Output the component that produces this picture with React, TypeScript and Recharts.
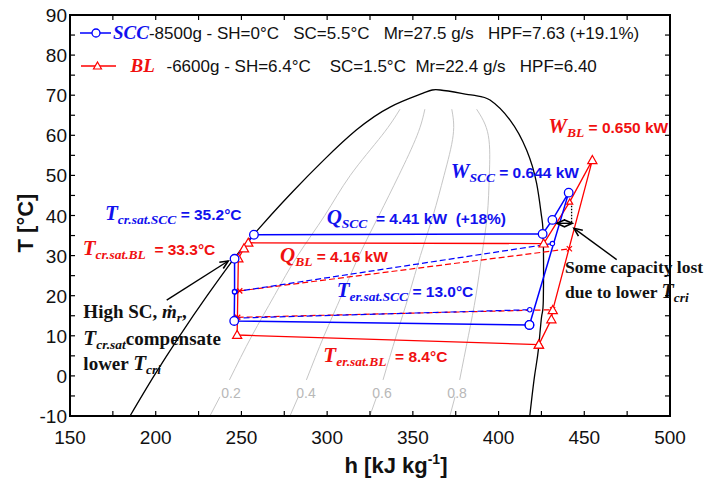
import React from "react";
import {
  LineChart,
  Line,
  XAxis,
  YAxis,
  ReferenceLine,
  ReferenceDot,
  Customized,
} from "recharts";

const BLUE = "#0000ff";
const RED = "#ff0000";
const BLUE_TXT = "#1111ee";
const RED_TXT = "#f01010";
const GREY = "#c6c6c6";
const INK = "#111";
const SANS = "'Liberation Sans', Arial, sans-serif";
const SERIF = "'Liberation Serif', 'Times New Roman', serif";

// plot box (chart margins + axis sizes below)
const LEFT = 70;
const TOP = 15;
const PLOT_W = 600;
const PLOT_H = 401;

// axis ticks
const hTicks = [150, 175, 200, 225, 250, 275, 300, 325, 350, 375, 400, 425, 450, 475, 500];
const tTicks = [-10, -5, 0, 5, 10, 15, 20, 25, 30, 35, 40, 45, 50, 55, 60, 65, 70, 75, 80, 85, 90];

// saturation dome [h kJ/kg, T °C]: liquid side -> top -> vapour side
const dome: [number, number][] = [
  [185, -10], [199, 0], [214, 10], [230, 20], [247, 30], [257, 35.2], [267, 40],
  [280, 46], [298, 53.8], [317, 61.3], [337, 67.1], [356, 70.5], [366, 71.3],
  [385, 70.0], [395, 68.8], [406.7, 63.8], [416.4, 56.3], [422.2, 48], [425.1, 39.7],
  [426.1, 33.9], [426.1, 18.9], [425.1, 14.8], [423.2, 6.5], [421, 0], [418.2, -10],
];

// vapour quality lines, split where the label sits
const q02Low: [number, number][] = [[231.6, -10], [237.5, -5.2]];
const q02: [number, number][] = [[243, -1], [256.1, 10], [269.2, 20], [282.8, 30], [298.6, 40], [313.5, 50], [332, 60], [342.5, 66.5]];
const q04Low: [number, number][] = [[278.3, -10], [283.2, -5.2]];
const q04: [number, number][] = [[287.9, -1], [298.2, 10], [308.4, 20], [318.6, 30], [330.2, 40], [341.8, 50], [352.5, 60], [357, 66.5]];
const q06Low: [number, number][] = [[324.9, -10], [328.9, -5.2]];
const q06: [number, number][] = [[332.6, -1], [340.3, 10], [347.6, 20], [354.4, 30], [361.8, 40], [368.2, 50], [373.5, 60], [372.7, 66.5]];
const q08Low: [number, number][] = [[371.6, -10], [374.6, -5.2]];
const q08: [number, number][] = [[377.3, -1], [382.4, 10], [386.8, 20], [390.2, 30], [393.4, 40], [394.6, 50], [394, 60], [387.2, 66.5]];
const qLabels = ["0.2", "0.4", "0.6", "0.8"];
const qLabelAt: [number, number][] = [[243.9, -4.3], [287.7, -4.3], [332.0, -4.3], [375.8, -4.3]];

// SCC cycle (blue)
const sccCycle: [number, number][] = [
  [418.0, 12.7], [440.9, 45.7], [431.4, 38.9], [425.7, 35.4], [257.3, 35.2],
  [246.0, 29.2], [246.0, 21.0], [245.8, 13.7], [418.0, 12.7],
];
const sccSmallIdx = [6];
const sccDashLiquid: [number, number][] = [[246.3, 21.0], [431.4, 33.0]];
const sccDashSuction: [number, number][] = [[246.0, 14.4], [418.2, 16.5]];

// BL cycle (red)
const blCycle: [number, number][] = [
  [423.5, 7.8], [430.8, 14.1], [431.6, 16.4], [454.7, 53.8], [441.5, 43.4], [426.3, 33.0],
  [254.0, 33.2], [251.5, 31.8], [248.2, 29.3], [247.5, 10.2], [423.5, 7.8],
];
const blSmallIdx = [4];
const blDashLiquid: [number, number][] = [[249.0, 21.2], [441.3, 31.7]];
const blDashSuction: [number, number][] = [[247.8, 14.6], [431.5, 16.5]];

// annotation arrows
const arrowHighSC: [number, number][] = [[206.4, 18.9], [242.3, 28.65]];
const arrowLost: [number, number][] = [[468.9, 29.0], [444.0, 36.8]];
const lostSpan: [number, number][] = [[433.9, 38.05], [443.0, 38.05]];
const lostDrop: [number, number][] = [[442.6, 43.2], [442.6, 38.05]];

const legendScc = "-8500g - SH=0°C   SC=5.5°C   Mr=27.5 g/s   HPF=7.63 (+19.1%)";
const legendBl = "-6600g - SH=6.4°C    SC=1.5°C  Mr=22.4 g/s   HPF=6.40";

const pts = (a: [number, number][]) => a.map(([h, T]) => ({ h, T }));

const circleDot = (small: number[]) => (p: any) => {
  const isSmall = small.includes(p.index);
  return (
    <circle key={`c${p.index}`} cx={p.cx} cy={p.cy} r={isSmall ? 2.2 : 4.3}
      fill="#fff" stroke={BLUE} strokeWidth={1.3} />
  );
};
const smallCircleDot = (p: any) => (
  <circle key={`s${p.index}`} cx={p.cx} cy={p.cy} r={2.2} fill="#fff" stroke={BLUE} strokeWidth={1.1} />
);
const triDot = (small: number[]) => (p: any) => {
  const s = small.includes(p.index) ? 3 : 4.6;
  const { cx, cy } = p;
  return (
    <path key={`t${p.index}`} d={`M${cx},${cy - s} L${cx + s},${cy + s * 0.75} L${cx - s},${cy + s * 0.75} Z`}
      fill="#fff" stroke={RED} strokeWidth={1.2} />
  );
};
const crossDot = (p: any) => (
  <path key={`x${p.index}`} d={`M${p.cx - 2.6},${p.cy - 2.6} L${p.cx + 2.6},${p.cy + 2.6} M${p.cx - 2.6},${p.cy + 2.6} L${p.cx + 2.6},${p.cy - 2.6}`}
    stroke={RED} strokeWidth={1.2} />
);

const arrowHead = (tx: number, ty: number, fx: number, fy: number) => {
  const a = Math.atan2(ty - fy, tx - fx);
  const L = 9;
  const w = 0.42;
  return `M${tx - L * Math.cos(a - w)},${ty - L * Math.sin(a - w)} L${tx},${ty} L${tx - L * Math.cos(a + w)},${ty - L * Math.sin(a + w)}`;
};
const arrowShape = (both: boolean) => (p: any) => {
  const { x1, y1, x2, y2 } = p;
  return (
    <g>
      <line x1={x1} y1={y1} x2={x2} y2={y2} stroke="#000" strokeWidth={1.4} />
      <path d={arrowHead(x2, y2, x1, y1) + (both ? " " + arrowHead(x1, y1, x2, y2) : "")}
        fill="none" stroke="#000" strokeWidth={1.6} />
    </g>
  );
};

function Sym({ x, y, color, main, sub, rest }: any) {
  return (
    <text x={x} y={y} fill={color} style={{ whiteSpace: "pre" }}>
      <tspan fontFamily={SERIF} fontStyle="italic" fontWeight="bold" fontSize={21}>{main}</tspan>
      <tspan fontFamily={SERIF} fontStyle="italic" fontWeight="bold" fontSize={13.5} dy={4}>{sub}</tspan>
      <tspan fontFamily={SANS} fontWeight="bold" fontSize={15.5} dy={-4}>{rest}</tspan>
    </text>
  );
}

const note = (key: string, h: number, T: number, draw: (x: number, y: number) => React.ReactNode) => (
  <ReferenceDot key={key} x={h} y={T} r={1} ifOverflow="visible"
    shape={(p: any) => <g>{draw(p.cx, p.cy)}</g>} />
);

// bottom axis tick: inward tick at the bottom and mirrored one on the top edge
const BottomTick = (p: any) => {
  const { x, y, payload } = p;
  const major = payload.value % 50 === 0;
  return (
    <g>
      <line x1={x} x2={x} y1={y} y2={y - 5} stroke="#000" strokeWidth={1.2} />
      <line x1={x} x2={x} y1={y - PLOT_H} y2={y - PLOT_H + 5} stroke="#000" strokeWidth={1.2} />
      {major && (
        <text x={x} y={y + 28} textAnchor="middle" fontFamily={SANS} fontSize={19} fill={INK}>
          {payload.value}
        </text>
      )}
    </g>
  );
};
const LeftTick = (p: any) => {
  const { x, y, payload } = p;
  const major = payload.value % 10 === 0;
  return (
    <g>
      <line x1={x} x2={x + 5} y1={y} y2={y} stroke="#000" strokeWidth={1.2} />
      <line x1={x + PLOT_W} x2={x + PLOT_W - 5} y1={y} y2={y} stroke="#000" strokeWidth={1.2} />
      {major && (
        <text x={x - 3} y={y + 7} textAnchor="end" fontFamily={SANS} fontSize={19} fill={INK}>
          {payload.value}
        </text>
      )}
    </g>
  );
};

const Decorations = () => (
  <g>
    <rect x={LEFT} y={TOP} width={PLOT_W} height={PLOT_H} fill="none" stroke="#000" strokeWidth={2} />
    {/* legend */}
    <line x1={80} x2={111} y1={33} y2={33} stroke={BLUE} strokeWidth={1.5} />
    <circle cx={96} cy={33} r={4} fill="#fff" stroke={BLUE} strokeWidth={1.3} />
    <text x={113} y={39} fontFamily={SANS} fontSize={17} fill={INK} style={{ whiteSpace: "pre" }}>
      <tspan fontFamily={SERIF} fontStyle="italic" fontWeight="bold" fontSize={19} fill={BLUE_TXT}>SCC</tspan>
      <tspan>{legendScc}</tspan>
    </text>
    <line x1={81} x2={116} y1={66} y2={66} stroke={RED} strokeWidth={1.5} />
    <path d="M97.5,62 L101.5,69 L93.5,69 Z" fill="#fff" stroke={RED} strokeWidth={1.2} />
    <text x={130.5} y={72} fontFamily={SERIF} fontStyle="italic" fontWeight="bold" fontSize={19} fill={RED_TXT}>BL</text>
    <text x={166.5} y={72} fontFamily={SANS} fontSize={17} fill={INK} style={{ whiteSpace: "pre" }}>{legendBl}</text>
    {/* axis titles */}
    <text transform="translate(33,223) rotate(-90)" textAnchor="middle" fontFamily={SANS}
      fontWeight="bold" fontSize={22} fill={INK}>T [°C]</text>
    <text x={396} y={473} textAnchor="middle" fontFamily={SANS} fontWeight="bold" fontSize={22} fill={INK}>
      h [kJ kg<tspan fontSize={14} dy={-9}>-1</tspan><tspan dy={9}>]</tspan>
    </text>
  </g>
);

export default function App() {
  const quality = [q02Low, q02, q04Low, q04, q06Low, q06, q08Low, q08];
  return (
    <div style={{ position: "absolute", left: 0, top: 0, background: "#fff" }}>
      <LineChart width={706} height={484} margin={{ top: TOP, right: 706 - LEFT - PLOT_W, bottom: 0, left: 0 }}>
        <XAxis dataKey="h" type="number" domain={[150, 500]} ticks={hTicks}
          allowDataOverflow height={484 - TOP - PLOT_H} tickSize={0} tickMargin={0} tickLine={false}
          tick={BottomTick} interval={0} axisLine={{ stroke: "#000", strokeWidth: 2 }} />
        <YAxis dataKey="T" type="number" domain={[-10, 90]} ticks={tTicks}
          allowDataOverflow width={LEFT} tickSize={0} tickMargin={0} tickLine={false}
          tick={LeftTick} interval={0} axisLine={{ stroke: "#000", strokeWidth: 2 }} />

        {quality.map((q, i) => (
          <Line key={`q${i}`} data={pts(q)} dataKey="T" type="natural" stroke={GREY}
            strokeWidth={1} dot={false} activeDot={false} isAnimationActive={false} />
        ))}
        <Line data={pts(dome)} dataKey="T" type="natural" stroke="#000" strokeWidth={1.3}
          dot={false} activeDot={false} isAnimationActive={false} />

        <Line data={pts(blDashLiquid)} dataKey="T" type="linear" stroke={RED} strokeWidth={1.2}
          strokeDasharray="6 3" dot={crossDot} activeDot={false} isAnimationActive={false} />
        <Line data={pts(blDashSuction)} dataKey="T" type="linear" stroke={RED} strokeWidth={1.2}
          strokeDasharray="6 3" dot={crossDot} activeDot={false} isAnimationActive={false} />
        <Line data={pts(blCycle)} dataKey="T" type="linear" stroke={RED} strokeWidth={1.3}
          dot={triDot(blSmallIdx)} activeDot={false} isAnimationActive={false} />

        <Line data={pts(sccDashLiquid)} dataKey="T" type="linear" stroke={BLUE} strokeWidth={1.2}
          strokeDasharray="6 3" dot={smallCircleDot} activeDot={false} isAnimationActive={false} />
        <Line data={pts(sccDashSuction)} dataKey="T" type="linear" stroke={BLUE} strokeWidth={1.2}
          strokeDasharray="6 3" dot={smallCircleDot} activeDot={false} isAnimationActive={false} />
        <Line data={pts(sccCycle)} dataKey="T" type="linear" stroke={BLUE} strokeWidth={1.5}
          dot={circleDot(sccSmallIdx)} activeDot={false} isAnimationActive={false} />

        <ReferenceLine segment={arrowHighSC.map(([x, y]) => ({ x, y }))} ifOverflow="visible" shape={arrowShape(false)} />
        <ReferenceLine segment={arrowLost.map(([x, y]) => ({ x, y }))} ifOverflow="visible" shape={arrowShape(false)} />
        <ReferenceLine segment={lostSpan.map(([x, y]) => ({ x, y }))} ifOverflow="visible" shape={arrowShape(true)} />
        <ReferenceLine segment={lostDrop.map(([x, y]) => ({ x, y }))} ifOverflow="visible"
          stroke="#000" strokeWidth={1.3} strokeDasharray="1.5 1.5" />

        {qLabelAt.map(([h, T], i) =>
          note(`ql${i}`, h, T, (x, y) => (
            <text x={x} y={y + 5} textAnchor="middle" fontFamily={SANS} fontSize={14} fill="#b8b8b8">
              {qLabels[i]}
            </text>
          ))
        )}

        {note("wbl", 429.0, 60.5, (x, y) => <Sym x={x} y={y} color={RED_TXT} main="W" sub="BL" rest=" = 0.650 kW" />)}
        {note("wscc", 372.1, 49.3, (x, y) => <Sym x={x} y={y} color={BLUE_TXT} main="W" sub="SCC" rest=" = 0.644 kW" />)}
        {note("tcrscc", 170.4, 39.0, (x, y) => <Sym x={x} y={y} color={BLUE_TXT} main="T" sub="cr.sat.SCC" rest=" = 35.2°C" />)}
        {note("tcrbl", 157.4, 30.2, (x, y) => <Sym x={x} y={y} color={RED_TXT} main="T" sub="cr.sat.BL" rest="  = 33.3°C" />)}
        {note("qscc", 299.7, 38.0, (x, y) => <Sym x={x} y={y} color={BLUE_TXT} main="Q" sub="SCC" rest="  = 4.41 kW  (+18%)" />)}
        {note("qbl", 272.5, 28.5, (x, y) => <Sym x={x} y={y} color={RED_TXT} main="Q" sub="BL" rest=" = 4.16 kW" />)}
        {note("terscc", 305.6, 19.7, (x, y) => <Sym x={x} y={y} color={BLUE_TXT} main="T" sub="er.sat.SCC" rest=" = 13.0°C" />)}
        {note("terbl", 297.8, 3.5, (x, y) => <Sym x={x} y={y} color={RED_TXT} main="T" sub="er.sat.BL" rest="  = 8.4°C" />)}

        {note("highsc", 157.8, 14.4, (x, y) => (
          <g fontFamily={SERIF} fontWeight="bold" fill={INK} fontSize={19} style={{ whiteSpace: "pre" }}>
            <text x={x} y={y}>
              High SC, <tspan fontStyle="italic">ṁ</tspan>
              <tspan fontStyle="italic" fontSize={13} dy={4}>r</tspan>
              <tspan dy={-4}>,</tspan>
            </text>
            <text x={x} y={y + 26.5}>
              <tspan fontStyle="italic" fontSize={21}>T</tspan>
              <tspan fontStyle="italic" fontSize={13.5} dy={4}>cr.sat</tspan>
              <tspan dy={-4}>compensate</tspan>
            </text>
            <text x={x} y={y + 52}>
              lower <tspan fontStyle="italic" fontSize={21}>T</tspan>
              <tspan fontStyle="italic" fontSize={13.5} dy={4}>cri</tspan>
            </text>
          </g>
        ))}
        {note("lost", 438.8, 25.6, (x, y) => (
          <g fontFamily={SERIF} fontWeight="bold" fill={INK} fontSize={17.5} style={{ whiteSpace: "pre" }}>
            <text x={x} y={y}>Some capacity lost</text>
            <text x={x} y={y + 25}>
              due to lower <tspan fontStyle="italic" fontSize={20}>T</tspan>
              <tspan fontStyle="italic" fontSize={13.5} dy={4}>cri</tspan>
            </text>
          </g>
        ))}

        <Customized component={<Decorations />} />
      </LineChart>
    </div>
  );
}
